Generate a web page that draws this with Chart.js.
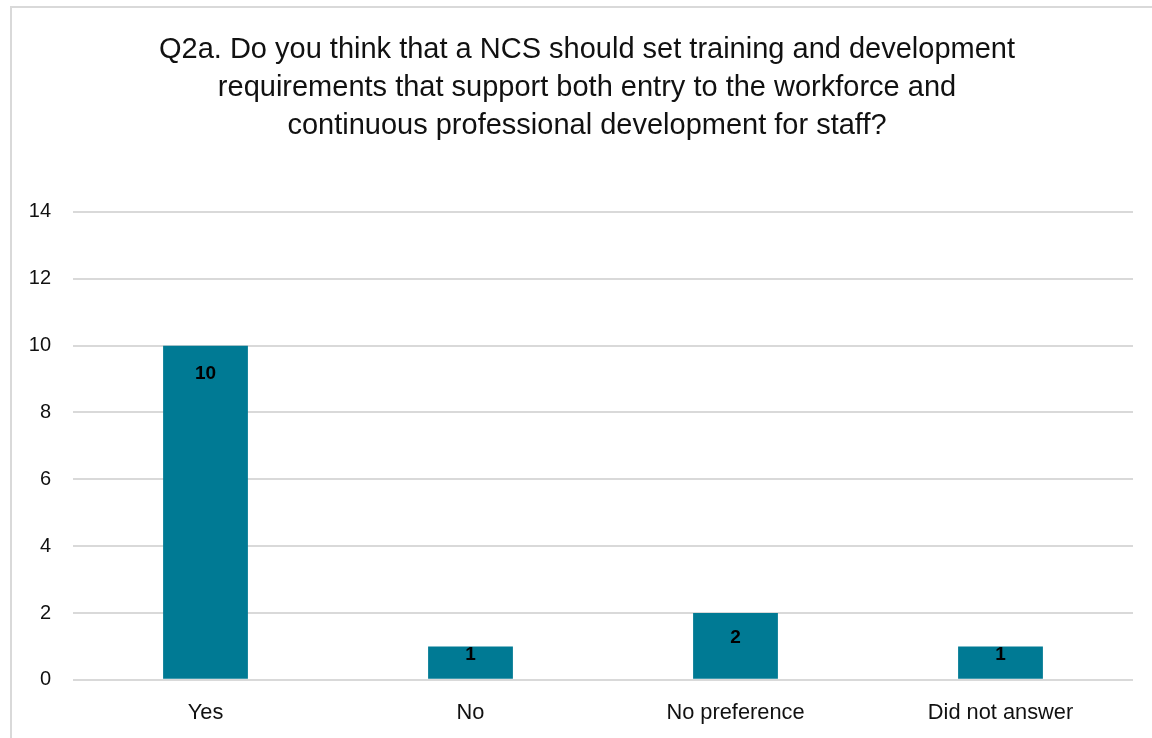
<!DOCTYPE html>
<html>
<head>
<meta charset="utf-8">
<script src="https://cdn.jsdelivr.net/npm/chart.js@4"></script>
<style>
  html, body { margin: 0; padding: 0; background: #fff; }
  body { width: 1152px; height: 738px; position: relative; overflow: hidden; }
  #frame {
    position: absolute; left: 10px; top: 6px; width: 1160px; height: 760px;
    border: 2px solid #d9d9d9; box-sizing: border-box;
  }
  #wrap { position: absolute; left: 12px; top: 8px; width: 1140px; height: 730px; }
</style>
</head>
<body>
<div id="frame"></div>
<div id="wrap"><canvas id="myChart"></canvas></div>
<script>
const titleLines = [
  'Q2a. Do you think that a NCS should set training and development',
  'requirements that support both entry to the workforce and',
  'continuous professional development for staff?'
];
const categories = ['Yes', 'No', 'No preference', 'Did not answer'];
const counts = [10, 1, 2, 1];
const yTicks = [0, 2, 4, 6, 8, 10, 12, 14];

const FONT = "'Liberation Sans', Arial, sans-serif";

// value labels drawn inside the top of each bar
const insideEndLabels = {
  id: 'insideEndLabels',
  afterDatasetsDraw(chart) {
    const ctx = chart.ctx;
    const meta = chart.getDatasetMeta(0);
    ctx.save();
    ctx.font = 'bold 19px ' + FONT;
    ctx.fillStyle = '#000';
    ctx.textAlign = 'center';
    ctx.textBaseline = 'middle';
    meta.data.forEach((bar, i) => {
      const mid = (bar.y + bar.base) / 2;
      const y = Math.min(bar.y + 28, mid - 8);
      ctx.fillText(String(counts[i]), bar.x, y);
    });
    ctx.restore();
  }
};

const ctx = document.getElementById('myChart');

new Chart(ctx, {
  type: 'bar',
  data: {
    labels: categories,
    datasets: [{
      data: counts,
      backgroundColor: '#007A94',
      borderWidth: 0,
      categoryPercentage: 1,
      barPercentage: 0.32,
    }]
  },
  options: {
    responsive: true,
    maintainAspectRatio: false,
    animation: false,
    layout: { padding: { left: 16, right: 6, top: 0, bottom: 0 } },
    plugins: {
      legend: { display: false },
      tooltip: { enabled: false },
      title: {
        display: true,
        text: titleLines,
        color: '#111',
        font: { family: FONT, size: 29, weight: 'normal', lineHeight: 1.31 },
        padding: { top: 23, bottom: 67 },
      },
    },
    scales: {
      x: {
        grid: { display: false },
        border: { display: false },
        ticks: { color: '#111', font: { family: FONT, size: 21.8 }, padding: 12 },
      },
      y: {
        min: 0,
        max: 14,
        afterBuildTicks: (axis) => { axis.ticks = yTicks.map(v => ({ value: v })); },
        afterFit: (axis) => { axis.width = 45; },
        grid: { color: '#d9d9d9', lineWidth: 2, drawTicks: false },
        border: { display: false },
        ticks: { color: '#111', font: { family: FONT, size: 20 }, padding: 22 },
      },
      // empty spacer on the right so the title sits where the original card centres it
      spacer: {
        type: 'linear',
        position: 'right',
        grid: { display: false },
        border: { display: false },
        ticks: { display: false },
        afterFit: (axis) => { axis.width = 13; },
      }
    }
  },
  plugins: [insideEndLabels]
});
</script>
</body>
</html>
